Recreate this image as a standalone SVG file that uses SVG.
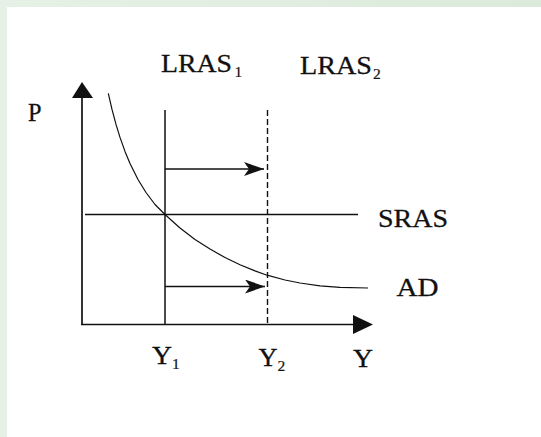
<svg xmlns="http://www.w3.org/2000/svg" width="541" height="437" viewBox="0 0 541 437">
<defs>
<linearGradient id="topg" x1="0" y1="0" x2="1" y2="0">
<stop offset="0" stop-color="#e6f1e6"/>
<stop offset="1" stop-color="#dbeadb"/>
</linearGradient>
<marker id="shift" viewBox="0 0 20 14" markerWidth="20" markerHeight="14" refX="20" refY="7" orient="auto" markerUnits="userSpaceOnUse">
<path d="M0,0 L20,7 L0,14 L5,7 Z" fill="#111"/>
</marker>
<style>
.ln{stroke:#111;stroke-width:1.5;fill:none}
.ax{stroke:#111;stroke-width:1.7;fill:none}
.cv{stroke:#111;stroke-width:1.2;fill:none;stroke-linejoin:round}
.dash{stroke:#111;stroke-width:1.4;fill:none;stroke-dasharray:6 3}
.t{font-family:"Liberation Serif","Times New Roman",serif;font-size:25.5px;fill:#111;stroke:#111;stroke-width:0.3}
.s{font-family:"Liberation Serif","Times New Roman",serif;font-size:15.5px;fill:#111;stroke:#111;stroke-width:0.2}
</style>
</defs>
<rect x="0" y="0" width="541" height="437" fill="#ffffff"/>
<rect x="0" y="0" width="541" height="7" fill="url(#topg)"/>
<rect x="0" y="0" width="7" height="437" fill="#e6f1e6"/>

<g id="axes">
<line class="ax" x1="82" y1="96" x2="82" y2="324.5"/>
<polygon points="82,82 93,98 72,98" fill="#111"/>
<line class="ax" x1="81" y1="324.5" x2="356" y2="324.5"/>
<polygon points="373,324.5 353,315 353,334" fill="#111"/>
<text class="t" x="28" y="120.5" textLength="13.5" lengthAdjust="spacingAndGlyphs">P</text>
<text class="t" x="353" y="367" textLength="20" lengthAdjust="spacingAndGlyphs">Y</text>
</g>

<g id="lras1">
<line class="ln" x1="165" y1="110" x2="165" y2="324.5"/>
<text class="t" x="161" y="71.5" textLength="71" lengthAdjust="spacingAndGlyphs">LRAS</text>
<text class="s" x="234.5" y="76.5">1</text>
<text class="t" x="152" y="364" textLength="20" lengthAdjust="spacingAndGlyphs">Y</text>
<text class="s" x="172" y="369">1</text>
</g>

<g id="lras2">
<line class="dash" x1="267.5" y1="110" x2="267.5" y2="323"/>
<text class="t" x="300" y="74" textLength="72" lengthAdjust="spacingAndGlyphs">LRAS</text>
<text class="s" x="373" y="79">2</text>
<text class="t" x="258.5" y="365.5" textLength="19" lengthAdjust="spacingAndGlyphs">Y</text>
<text class="s" x="277.5" y="370.5">2</text>
</g>

<g id="sras">
<line class="ln" x1="85" y1="214.5" x2="358" y2="214.5"/>
<text class="t" x="378" y="227" textLength="70" lengthAdjust="spacingAndGlyphs">SRAS</text>
</g>

<g id="ad">
<path class="cv" d="M108.3,93.3 L112,109.4 L116,124.4 L120,137.4 L125,151.4 L130,163.5 L138,179.5 L146,192.5 L155,204.5 L165,214.5 L180,228 L195,239.4 L210,249.1 L225,257.5 L240,264.7 L255,270.9 L267,275.2 L285,280 L300,283 L320,285.8 L340,287.4 L368,288"/>
<text class="t" x="396.5" y="295.5" textLength="42" lengthAdjust="spacingAndGlyphs">AD</text>
</g>

<g id="connectors">
<line class="ln" x1="165" y1="169" x2="264" y2="169" marker-end="url(#shift)"/>
<line class="ln" x1="165" y1="286.5" x2="265" y2="286.5" marker-end="url(#shift)"/>
</g>
</svg>
